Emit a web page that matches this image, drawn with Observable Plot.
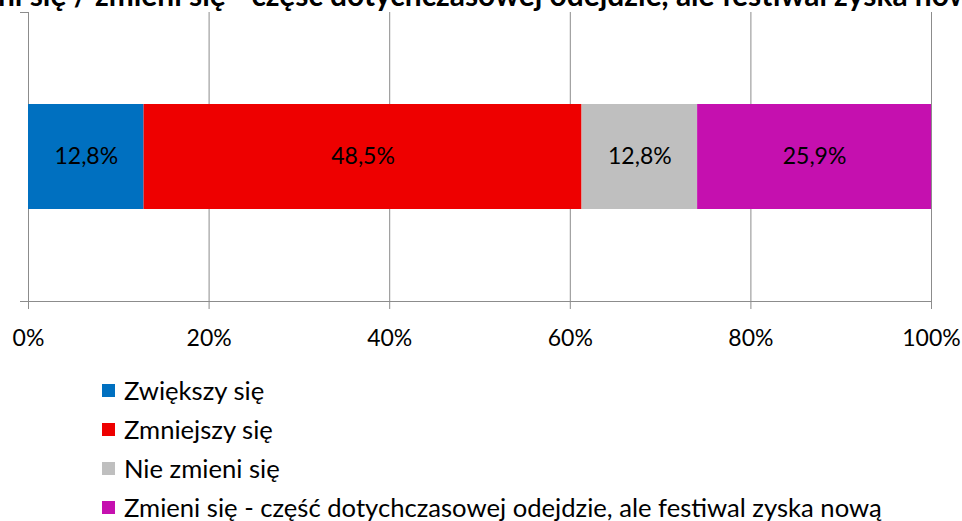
<!DOCTYPE html>
<html><head><meta charset="utf-8">
<script src="https://cdn.jsdelivr.net/npm/d3@7"></script>
<script src="https://cdn.jsdelivr.net/npm/@observablehq/plot@0.6"></script>
<style>
html,body{margin:0;padding:0;background:#fff}
body{width:962px;height:521px;overflow:hidden;position:relative;font-family:Lato,sans-serif;color:#000}
#title{position:absolute;white-space:nowrap;font-weight:bold}
#chart{position:absolute;left:0;top:0}
#legend{position:absolute;left:102px;top:371px}
.item{display:flex;align-items:center;height:39px;white-space:nowrap;line-height:1}
.sw{width:13px;height:13px;margin-right:9px;flex:none}
</style>
</head><body>
<div id="chart"></div>
<div id="title"></div>
<div id="legend"></div>
<script>
const categories = ["Zwiększy się", "Zmniejszy się", "Nie zmieni się", "Zmieni się - część dotychczasowej odejdzie, ale festiwal zyska nową"];
const values = [12.8, 48.5, 12.8, 25.9];
const colors = ["#0070C0", "#EE0000", "#BFBFBF", "#C510AF"];
const xTicks = [0, 20, 40, 60, 80, 100];
const titleText = "ni się / zmieni się - część dotychczasowej odejdzie, ale festiwal zyska now";

const data = categories.map((c, i) => ({cat: c, value: values[i], row: "Q"}));
const fmt = v => v.toFixed(1).replace(".", ",") + "%";
const gridColor = "#8c8c8c";
const labelSize = 23;

const chart = Plot.plot({
  width: 962, height: 360,
  marginLeft: 28, marginRight: 31, marginTop: 12, marginBottom: 59,
  style: {fontFamily: "Lato, sans-serif", fontSize: labelSize + "px", color: "#000", background: "transparent", overflow: "visible"},
  x: {domain: [0, 100], ticks: xTicks, tickFormat: d => d + "%", label: null},
  y: {domain: ["Q"], padding: 0.465, axis: null},
  color: {domain: categories, range: colors},
  marks: [
    Plot.gridX(xTicks, {stroke: gridColor, strokeOpacity: 1}),
    Plot.frame({anchor: "bottom", stroke: gridColor}),
    Plot.barX(data, Plot.stackX({x: "value", y: "row", fill: "cat"})),
    Plot.text(data, Plot.stackX({x: "value", y: "row", text: d => fmt(d.value), fill: "#000", fontSize: labelSize})),
    Plot.axisX({ticks: xTicks, tickSize: 8, tickPadding: 20, stroke: gridColor, fill: "#000", fontSize: labelSize, tickFormat: d => d + "%", label: null})
  ]
});
document.getElementById("chart").append(chart);

// y-axis category boundary ticks (top and bottom of the band)
const sx = chart.scale("x");
const x0 = sx.apply(0);
const svg = d3.select(chart);
[12, 360 - 59].forEach(yy => {
  svg.append("line").attr("x1", x0 - 8).attr("x2", x0).attr("y1", yy + 0.5).attr("y2", yy + 0.5)
    .attr("stroke", gridColor);
});

// text measuring helper
const ctx = document.createElement("canvas").getContext("2d");
const measure = (s, weight) => { ctx.font = `${weight} 100px Lato`; return ctx.measureText(s).width / 100; };

// title (clipped at the top of the picture, as in the original)
const tEl = document.getElementById("title");
tEl.textContent = titleText;
const iN = titleText.lastIndexOf("now");
const tfs = 917 / measure(titleText.slice(0, iN), "bold");
tEl.style.fontSize = tfs + "px";
tEl.style.lineHeight = tfs + "px";
tEl.style.left = "-2px";
tEl.style.top = (7 - 0.887 * tfs) + "px";

// legend
const longest = categories[categories.length - 1];
const lfs = Math.min(28, 758 / measure(longest, "normal"));
const legend = d3.select("#legend").style("font-size", lfs + "px");
categories.forEach((c, i) => {
  const it = legend.append("div").attr("class", "item");
  it.append("div").attr("class", "sw").style("background", colors[i]);
  it.append("span").text(c);
});
</script>
</body></html>
